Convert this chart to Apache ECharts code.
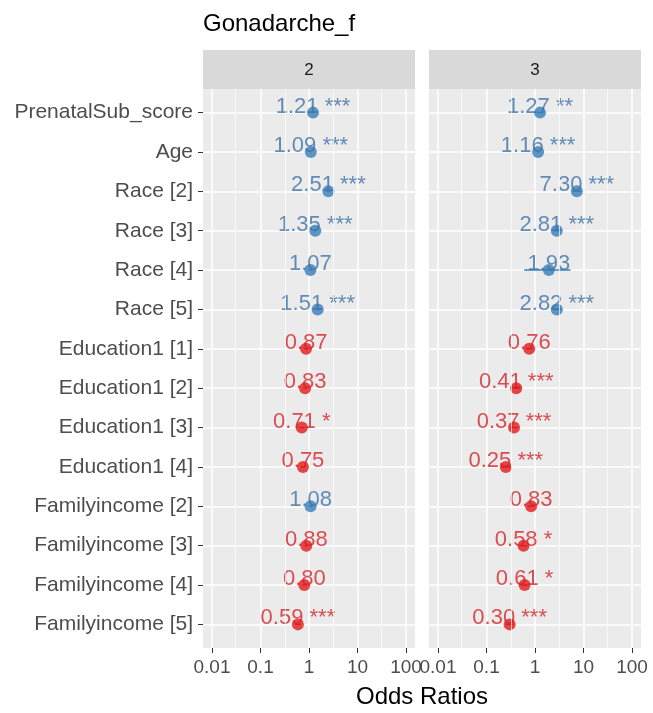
<!DOCTYPE html>
<html>
<head>
<meta charset="utf-8">
<script src="https://cdn.jsdelivr.net/npm/echarts@6/dist/echarts.min.js"></script>
<style>
body {
	margin: 0px;
	background: #fff;
}
#main1 {
	width: 653px;
	height: 713px;
}
</style>
</head>
<body>
<div id="main1"></div>
<script>
// terms, top to bottom
var categories = ['PrenatalSub_score', 'Age', 'Race [2]', 'Race [3]', 'Race [4]', 'Race [5]',
	'Education1 [1]', 'Education1 [2]', 'Education1 [3]', 'Education1 [4]',
	'Familyincome [2]', 'Familyincome [3]', 'Familyincome [4]', 'Familyincome [5]'];
var facets = ['2', '3'];

// facet "2"
var oddsRatios2 = [1.21, 1.09, 2.51, 1.35, 1.07, 1.51, 0.87, 0.83, 0.71, 0.75, 1.08, 0.88, 0.80, 0.59];
var stars2 = ['***', '***', '***', '***', '', '***', '', '', '*', '', '', '', '', '***'];
var ciLow2 = [1.17, 1.07, 2.30, 1.27, 0.95, 1.42, 0.80, 0.76, 0.63, 0.67, 0.98, 0.80, 0.72, 0.52];
var ciHigh2 = [1.25, 1.11, 2.74, 1.44, 1.20, 1.61, 0.95, 0.90, 0.80, 0.84, 1.19, 0.97, 0.89, 0.67];

// facet "3"
var oddsRatios3 = [1.27, 1.16, 7.30, 2.81, 1.93, 2.82, 0.76, 0.41, 0.37, 0.25, 0.83, 0.58, 0.61, 0.30];
var stars3 = ['**', '***', '***', '***', '', '***', '', '***', '***', '***', '', '*', '*', '***'];
var ciLow3 = [1.12, 1.10, 6.00, 2.40, 0.60, 2.40, 0.64, 0.35, 0.31, 0.20, 0.70, 0.49, 0.51, 0.25];
var ciHigh3 = [1.44, 1.23, 8.90, 3.30, 5.40, 3.30, 0.90, 0.48, 0.44, 0.31, 0.98, 0.69, 0.72, 0.36];

// x axis range and minor grid breaks
var xMin = 0.01;
var xMax = 100;
var minorBreaks = [0.0316, 0.316, 3.16, 31.6];

var blue = '#377EB8';
var red = '#E41A1C';
var blueText = '#3E72A8';
var redText = '#D3262C';
var font = 'Liberation Sans, Arial, Helvetica, sans-serif';

var panels = [
	{ or: oddsRatios2, stars: stars2, lo: ciLow2, hi: ciHigh2 },
	{ or: oddsRatios3, stars: stars3, lo: ciLow3, hi: ciHigh3 }
];

// layout
var panelLeft = [203, 429];
var panelWidth = 212;
var panelTop = 89;
var panelHeight = 559;
var unit = panelHeight / (categories.length - 1 + 1.2);
var catTop = panelTop + 0.6 * unit;
var catHeight = unit * (categories.length - 1);
var padX = 9;

var grid = [], xAxis = [], yAxis = [], series = [], graphic = [];

panels.forEach(function (p, k) {
	var left = panelLeft[k];
	var g = k * 3;

	graphic.push({
		type: 'rect', z: -10,
		shape: { x: left, y: panelTop, width: panelWidth, height: panelHeight },
		style: { fill: '#EBEBEB' }
	});
	graphic.push({
		type: 'rect', z: -10,
		shape: { x: left, y: 50, width: panelWidth, height: panelTop - 50 },
		style: { fill: '#D9D9D9' }
	});
	graphic.push({
		type: 'text', z: 5,
		x: left + panelWidth / 2, y: 70,
		style: { text: facets[k], fill: '#1A1A1A', font: '17px ' + font, textAlign: 'center', textVerticalAlign: 'middle' }
	});

	// A: horizontal grid lines + y labels
	grid.push({ left: left, top: catTop, width: panelWidth, height: catHeight });
	xAxis.push({ gridIndex: g, type: 'value', min: 0, max: 1, show: false });
	yAxis.push({
		gridIndex: g, type: 'category', data: categories, inverse: true, boundaryGap: false,
		axisLine: { show: false },
		axisTick: { show: k === 0, length: 5, lineStyle: { color: '#333333', width: 1 } },
		axisLabel: { show: k === 0, color: '#4D4D4D', fontSize: 21, margin: 10, fontFamily: font },
		splitLine: { show: true, lineStyle: { color: '#FFFFFF', width: 1.5 } }
	});

	// B: vertical grid lines + x labels
	grid.push({ left: left + padX, top: panelTop, width: panelWidth - 2 * padX, height: panelHeight });
	xAxis.push({
		gridIndex: g + 1, type: 'log', logBase: 10, min: xMin, max: xMax,
		axisLine: { show: false },
		axisTick: { show: true, length: 5, lineStyle: { color: '#333333', width: 1 } },
		axisLabel: {
			color: '#4D4D4D', fontSize: 19, margin: 10, fontFamily: font,
			formatter: function (v) { return String(+v.toPrecision(3)); }
		},
		splitLine: { show: true, lineStyle: { color: '#FFFFFF', width: 1.5 } }
	});
	yAxis.push({ gridIndex: g + 1, type: 'value', min: 0, max: 1, show: false });

	// C: data
	grid.push({ left: left + padX, top: catTop, width: panelWidth - 2 * padX, height: catHeight });
	xAxis.push({ gridIndex: g + 2, type: 'log', logBase: 10, min: xMin, max: xMax, show: false });
	yAxis.push({ gridIndex: g + 2, type: 'category', data: categories, inverse: true, boundaryGap: false, show: false });

	series.push({
		type: 'line', xAxisIndex: g + 1, yAxisIndex: g + 1, data: [], z: 1,
		markLine: {
			silent: true, symbol: 'none', animation: false,
			label: { show: false },
			lineStyle: { color: '#FFFFFF', width: 0.7, type: 'solid' },
			data: minorBreaks.map(function (v) { return { xAxis: v }; })
		}
	});

	series.push({
		type: 'custom', xAxisIndex: g + 2, yAxisIndex: g + 2, z: 3,
		encode: { x: [0, 1], y: 2 },
		data: categories.map(function (c, i) {
			return { value: [p.lo[i], p.hi[i], i], itemStyle: { color: p.or[i] > 1 ? blue : red } };
		}),
		renderItem: function (params, api) {
			var a = api.coord([api.value(0), api.value(2)]);
			var b = api.coord([api.value(1), api.value(2)]);
			return {
				type: 'line',
				shape: { x1: a[0], y1: a[1], x2: b[0], y2: b[1] },
				style: { stroke: api.visual('color'), lineWidth: 1.5 }
			};
		}
	});

	series.push({
		type: 'scatter', xAxisIndex: g + 2, yAxisIndex: g + 2, z: 4,
		symbolSize: 12,
		data: categories.map(function (c, i) {
			var up = p.or[i] > 1;
			return { value: [p.or[i], c], itemStyle: { color: up ? blue : red }, label: { color: up ? blueText : redText } };
		}),
		label: {
			show: true, position: 'top', distance: -11,
			fontSize: 22, fontFamily: font, align: 'center',
			formatter: function (q) {
				var s = p.stars[q.dataIndex];
				var t = q.value[0].toFixed(2);
				return s ? t + ' ' + s : t;
			}
		}
	});
});

graphic.push({
	type: 'text',
	x: (panelLeft[0] + panelLeft[1] + panelWidth) / 2, y: 697,
	style: { text: 'Odds Ratios', fill: '#000000', font: '24px ' + font, textAlign: 'center', textVerticalAlign: 'middle' }
});

var myChart = echarts.init(document.getElementById('main1'));
myChart.setOption({
	animation: false,
	textStyle: { fontFamily: font },
	title: {
		text: 'Gonadarche_f', left: 198, top: 7,
		textStyle: { fontSize: 24, fontWeight: 'normal', color: '#000000', fontFamily: font }
	},
	grid: grid,
	xAxis: xAxis,
	yAxis: yAxis,
	graphic: graphic,
	series: series
});
</script>
</body>
</html>
